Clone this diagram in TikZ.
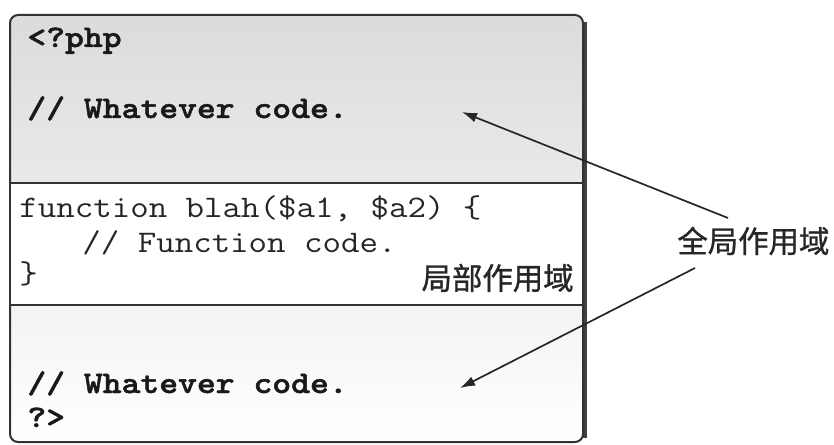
\documentclass[tikz,border=0pt]{standalone}
\usepackage{fontspec}
\usetikzlibrary{arrows.meta}
\newfontfamily\codefont[FakeStretch=1.143]{Latin Modern Mono}
\newfontfamily\codeboldfont[FakeStretch=1.143,FakeBold=1.5]{lmmonolt10-bold.otf}
\newfontfamily\cjkfont[FakeBold=1]{Noto Sans CJK SC}
\tikzset{
  codeline/.style={font=\codefont\fontsize{15.7}{18}\selectfont, anchor=base west, inner sep=0pt, text=black!85},
  boldline/.style={font=\codeboldfont\fontsize{15.7}{18}\selectfont, anchor=base west, inner sep=0pt, text=black!90},
  cjklabel/.style={font=\cjkfont\fontsize{15.2}{18}\selectfont, inner sep=0pt, text=black!85},
  pointer/.style={draw=black!85, line width=0.85pt, -{Latex[length=7.5pt,width=5pt]}},
  boxline/.style={draw=black!80, line width=1pt}
}
\begin{document}
\begin{tikzpicture}[x=0.5pt,y=-0.5pt]
\useasboundingbox (0,0) rectangle (834,444);
% outer box with gradient
\shade[top color=black!14, bottom color=white, rounded corners=4pt] (10,15) rectangle (583,442);
\draw[black!75, line width=2pt] (585,22) -- (585,438);
\draw[boxline, rounded corners=4pt] (10,15) rectangle (583,442);
% inner (local) box
\draw[boxline, fill=white] (10,183) rectangle (583,305);
% code lines
\node[boldline] (php) at (27,47) {<?php};
\node[boldline] (what1) at (27,118) {// Whatever code.};
\node[codeline] (func) at (19,217) {function blah(\$a1, \$a2) \{};
\node[codeline] (body) at (82,252) {// Function code.};
\node[codeline] (close) at (19,283) {\}};
\node[boldline] (what2) at (27,393) {// Whatever code.};
\node[boldline] (end) at (27,427) {?>};
% labels
\node[cjklabel, anchor=east] (local) at (574,278) {局部作用域};
\node[cjklabel, anchor=west] (global) at (677,241) {全局作用域};
% arrows
\coordinate (s1) at (728,218);
\coordinate (t1) at (462,112);
\coordinate (s2) at (695,268);
\coordinate (t2) at (460,388);
\draw[pointer] (s1) -- (t1);
\draw[pointer] (s2) -- (t2);
\end{tikzpicture}
\end{document}
